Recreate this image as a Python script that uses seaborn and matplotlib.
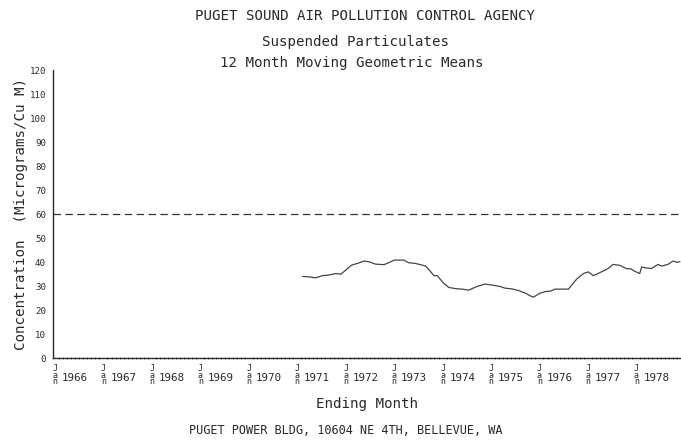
import matplotlib
matplotlib.use("Agg")
import matplotlib.pyplot as plt
from matplotlib.ticker import MultipleLocator, FixedLocator
import matplotlib.transforms as mtransforms
import numpy as np
import pandas as pd
import seaborn as sns

# ---- data ----
title_lines = ["PUGET SOUND AIR POLLUTION CONTROL AGENCY",
               "Suspended Particulates",
               "12 Month Moving Geometric Means"]
footer = "PUGET POWER BLDG, 10604 NE 4TH, BELLEVUE, WA"
years = list(range(1966, 1979))
y_ticks = list(range(0, 121, 10))
standard_level = 60

ending_month = [1971.11, 1971.25, 1971.38, 1971.52, 1971.66, 1971.80, 1971.90,
                1972.00, 1972.12, 1972.24, 1972.38, 1972.48, 1972.62, 1972.79,
                1972.89, 1973.00, 1973.20, 1973.30, 1973.44, 1973.58, 1973.65,
                1973.75, 1973.82, 1973.89, 1974.02, 1974.13, 1974.27, 1974.40,
                1974.54, 1974.71, 1974.88, 1975.02, 1975.19, 1975.29, 1975.43,
                1975.57, 1975.71, 1975.84, 1975.88, 1976.01, 1976.15, 1976.22,
                1976.32, 1976.46, 1976.60, 1976.67, 1976.77, 1976.91, 1977.01,
                1977.11, 1977.21, 1977.35, 1977.42, 1977.52, 1977.66, 1977.80,
                1977.88, 1977.97, 1978.07, 1978.11, 1978.17, 1978.31, 1978.45,
                1978.52, 1978.65, 1978.76, 1978.83, 1978.90]
concentration = [34.0, 33.8, 33.4, 34.3, 34.6, 35.2, 34.9,
                 36.6, 38.7, 39.4, 40.4, 40.1, 39.1, 38.9,
                 39.7, 40.8, 40.8, 39.7, 39.4, 38.7, 38.3,
                 36.1, 34.3, 34.3, 31.2, 29.4, 28.9, 28.7,
                 28.3, 29.8, 30.8, 30.4, 29.8, 29.1, 28.8,
                 28.1, 27.0, 25.6, 25.4, 27.0, 27.8, 27.8,
                 28.7, 28.7, 28.7, 30.5, 32.9, 35.2, 35.9,
                 34.3, 35.2, 36.6, 37.3, 39.0, 38.6, 37.2,
                 37.2, 36.1, 35.2, 38.0, 37.6, 37.3, 39.0,
                 38.3, 39.0, 40.4, 39.9, 40.1]

df = pd.DataFrame({"Ending Month": ending_month, "Concentration": concentration})

# ---- styling ----
sns.set_theme(style="white")
plt.rcParams["font.family"] = ["DejaVu Sans Mono", "DejaVu Sans"]
ink = "#2a2a2a"

fig = plt.figure(figsize=(6.81, 4.42), dpi=100)
ax = fig.add_axes([53 / 681, 1 - 358 / 442, (681 - 53) / 681, 288 / 442])

sns.lineplot(data=df, x="Ending Month", y="Concentration", ax=ax,
             color="#444444", linewidth=0.9)
ax.axhline(standard_level, color="#333333", linewidth=0.9,
           linestyle=(0, (6, 3.5)))

ax.set_xlim(1966 - 2 / 48.6, 1966 + 628 / 48.6)
ax.set_ylim(0, 120)

for s in ["top", "right"]:
    ax.spines[s].set_visible(False)
for s in ["left", "bottom"]:
    ax.spines[s].set_color(ink)
    ax.spines[s].set_linewidth(1.0)

ax.yaxis.set_major_locator(FixedLocator(y_ticks))
ax.set_yticklabels([str(v) for v in y_ticks])
ax.tick_params(axis="y", which="major", direction="inout", length=8,
               width=0.8, color=ink, labelsize=6.6, pad=1, labelcolor=ink)

ax.xaxis.set_major_locator(FixedLocator(years))
ax.set_xticklabels(["J\na\nn"] * len(years), linespacing=0.62)
ax.xaxis.set_minor_locator(MultipleLocator(1 / 12))
ax.tick_params(axis="x", which="major", direction="inout", length=7,
               width=0.8, color=ink, labelsize=6, pad=1, labelcolor=ink)
ax.tick_params(axis="x", which="minor", direction="inout", length=1.6,
               width=0.5, color=ink, bottom=True)

trans = mtransforms.blended_transform_factory(ax.transData, ax.transAxes)
for yr in years:
    ax.text(yr + 0.41, -0.07, str(yr), transform=trans, ha="center",
            va="center", fontsize=7.8, color=ink)

ax.set_xlabel("Ending Month", fontsize=10.2, color=ink, labelpad=8)
ax.set_ylabel("Concentration  (Micrograms/Cu M)", fontsize=10.2, color=ink,
              labelpad=1)

fig.text(365 / 681, 1 - 16 / 442, title_lines[0], ha="center", va="center",
         fontsize=10.2, color=ink)
fig.text(356 / 681, 1 - 42 / 442, title_lines[1], ha="center", va="center",
         fontsize=10.2, color=ink)
fig.text(352 / 681, 1 - 63 / 442, title_lines[2], ha="center", va="center",
         fontsize=10.2, color=ink)
fig.text(346 / 681, 1 - 431 / 442, footer, ha="center", va="center",
         fontsize=8.6, color=ink)

fig.savefig("out.png", dpi=100, facecolor="white")
